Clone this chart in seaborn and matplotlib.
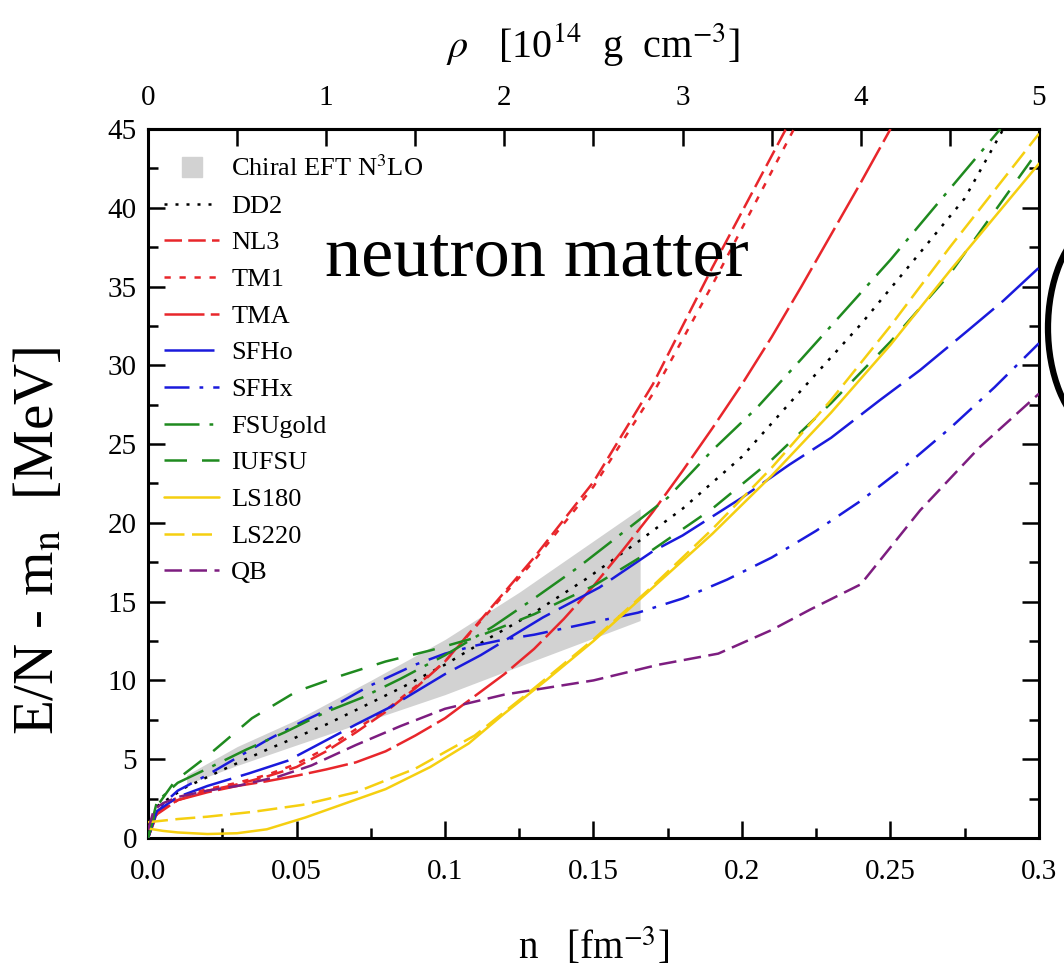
import numpy as np
import pandas as pd
import matplotlib
matplotlib.use("Agg")
import matplotlib.pyplot as plt
import seaborn as sns
from matplotlib.lines import Line2D
from matplotlib.patches import Arc
from matplotlib.ticker import MultipleLocator, FixedLocator

# ---------------- data ----------------
band_n = [0.013, 0.03, 0.05, 0.075, 0.1, 0.125, 0.1657]
band_lo = [3.4, 4.6, 5.9, 7.5, 9.1, 10.9, 13.8]
band_hi = [4.0, 5.8, 7.5, 10.0, 12.6, 15.6, 20.9]

dd2_n = [0, 0.003, 0.0125, 0.026, 0.04, 0.05, 0.06, 0.072, 0.086, 0.1, 0.115, 0.13, 0.148, 0.165, 0.18, 0.2, 0.217, 0.24, 0.258, 0.275, 0.288]
dd2_e = [0, 2.0, 3.2, 4.4, 5.6, 6.4, 7.2, 8.3, 9.6, 11.0, 12.7, 14.3, 16.5, 18.8, 20.9, 24.2, 27.8, 32.6, 36.7, 40.6, 45.0]

nl3_n = [0, 0.003, 0.01, 0.02, 0.03, 0.04, 0.05, 0.06, 0.07, 0.08, 0.09, 0.1, 0.115, 0.13, 0.15, 0.17, 0.19, 0.2148]
nl3_e = [0, 1.5, 2.4, 3.0, 3.4, 3.9, 4.5, 5.5, 6.7, 8.0, 9.5, 11.2, 14.5, 17.8, 22.6, 28.8, 36.2, 45.0]

tm1_n = [0, 0.003, 0.01, 0.02, 0.03, 0.04, 0.05, 0.06, 0.07, 0.08, 0.09, 0.1, 0.115, 0.13, 0.15, 0.17, 0.19, 0.2175]
tm1_e = [0, 1.7, 2.6, 3.1, 3.5, 4.0, 4.7, 5.7, 6.9, 8.1, 9.6, 11.2, 14.4, 17.6, 22.3, 28.2, 35.1, 45.0]

tma_n = [0, 0.003, 0.01, 0.02, 0.03, 0.04, 0.05, 0.06, 0.07, 0.08, 0.09, 0.1, 0.11, 0.12, 0.13, 0.14, 0.15, 0.16, 0.17, 0.18, 0.19, 0.2, 0.21, 0.22, 0.23, 0.24, 0.25]
tma_e = [0, 1.6, 2.4, 2.9, 3.3, 3.6, 3.95, 4.35, 4.8, 5.5, 6.5, 7.6, 9.0, 10.4, 12.0, 13.9, 16.0, 18.3, 20.7, 23.3, 26.0, 28.8, 31.8, 35.0, 38.3, 41.6, 45.0]

sfho_n = [0, 0.003, 0.01, 0.02, 0.034, 0.047, 0.06, 0.07, 0.0815, 0.1, 0.112, 0.133, 0.152, 0.17, 0.18, 0.2, 0.216, 0.23, 0.2465, 0.26, 0.276, 0.288, 0.3]
sfho_e = [0, 1.7, 2.6, 3.3, 4.1, 4.9, 6.2, 7.2, 8.3, 10.4, 11.6, 14.0, 15.9, 18.2, 19.2, 21.6, 23.7, 25.4, 27.8, 29.7, 32.2, 34.1, 36.2]

sfhx_n = [0, 0.003, 0.01, 0.02, 0.03, 0.04, 0.05, 0.06, 0.074, 0.09, 0.1, 0.11, 0.12, 0.13, 0.14, 0.15, 0.165, 0.18, 0.195, 0.21, 0.225, 0.24, 0.255, 0.27, 0.285, 0.3]
sfhx_e = [0, 1.8, 3.0, 4.0, 5.1, 6.2, 7.2, 8.1, 9.6, 11.0, 11.7, 12.2, 12.6, 12.9, 13.3, 13.7, 14.3, 15.2, 16.4, 17.8, 19.5, 21.4, 23.6, 26.0, 28.6, 31.4]

fsu_n = [0, 0.003, 0.01, 0.02, 0.033, 0.046, 0.06, 0.072, 0.085, 0.1, 0.116, 0.13, 0.145, 0.16, 0.175, 0.19, 0.205, 0.22, 0.25, 0.27, 0.287]
fsu_e = [0, 2.3, 3.5, 4.4, 5.6, 6.7, 8.0, 8.9, 10.1, 11.6, 13.4, 15.2, 17.2, 19.4, 21.6, 24.6, 27.3, 30.4, 36.7, 41.2, 45.0]

iufsu_n = [0, 0.003, 0.009, 0.02, 0.035, 0.05, 0.065, 0.08, 0.095, 0.11, 0.13, 0.15, 0.17, 0.19, 0.21, 0.23, 0.25, 0.27, 0.3]
iufsu_e = [0, 2.0, 3.6, 5.2, 7.6, 9.3, 10.3, 11.2, 11.9, 12.7, 14.2, 16.0, 18.3, 20.9, 24.0, 27.6, 31.5, 35.8, 43.7]

ls180_n = [0, 0.005, 0.01, 0.02, 0.03, 0.04, 0.053, 0.065, 0.08, 0.095, 0.108, 0.12, 0.134, 0.15, 0.17, 0.19, 0.21, 0.23, 0.25, 0.27, 0.3]
ls180_e = [0.6, 0.45, 0.35, 0.25, 0.3, 0.55, 1.3, 2.1, 3.1, 4.5, 6.0, 7.9, 10.0, 12.5, 15.9, 19.3, 23.0, 27.0, 31.3, 36.0, 42.8]

ls220_n = [0, 0.01, 0.02, 0.035, 0.052, 0.07, 0.09, 0.11, 0.13, 0.15, 0.17, 0.19, 0.21, 0.23, 0.25, 0.27, 0.3]
ls220_e = [1.0, 1.2, 1.35, 1.65, 2.1, 2.9, 4.4, 6.5, 9.5, 12.6, 16.0, 19.6, 23.5, 27.8, 32.5, 37.5, 44.7]

qb_n = [0, 0.002, 0.005, 0.01, 0.02, 0.03, 0.044, 0.055, 0.07, 0.085, 0.1, 0.12, 0.15, 0.172, 0.192, 0.21, 0.223, 0.24, 0.26, 0.28, 0.3]
qb_e = [0.5, 1.8, 2.2, 2.6, 3.0, 3.3, 3.9, 4.6, 5.9, 7.1, 8.2, 9.1, 10.0, 11.0, 11.7, 13.2, 14.5, 16.1, 20.8, 24.8, 28.2]

labels = ["DD2", "NL3", "TM1", "TMA", "SFHo", "SFHx", "FSUgold", "IUFSU", "LS180", "LS220", "QB"]
xs = [dd2_n, nl3_n, tm1_n, tma_n, sfho_n, sfhx_n, fsu_n, iufsu_n, ls180_n, ls220_n, qb_n]
ys = [dd2_e, nl3_e, tm1_e, tma_e, sfho_e, sfhx_e, fsu_e, iufsu_e, ls180_e, ls220_e, qb_e]

top_ticks = [0, 1, 2, 3, 4, 5]
bottom_ticks = [0, 0.05, 0.1, 0.15, 0.2, 0.25, 0.3]
bottom_ticklabels = ["0.0", "0.05", "0.1", "0.15", "0.2", "0.25", "0.3"]

RED, BLUE, GREEN, YEL, PUR = "#e8262b", "#1a1adc", "#1f8a1f", "#f5cf10", "#7d1d80"
colors = ["black", RED, RED, RED, BLUE, BLUE, GREEN, GREEN, YEL, YEL, PUR]
styles = [(0, (1.2, 3.2)), (0, (7, 2.5)), (0, (2.5, 3.5)), (0, (16, 2.5)),
          (0, (20, 4)), (0, (10, 4, 1.5, 4)), (0, (14, 4, 1.5, 4)), (0, (9, 6)),
          "-", (0, (8, 3)), (0, (7, 3))]

# ---------------- style ----------------
sns.set_theme(style="white")
plt.rcParams['font.family'] = ['Liberation Serif', 'DejaVu Serif']
plt.rcParams['mathtext.fontset'] = 'stix'
for k in ["text.color", "axes.labelcolor", "xtick.color", "ytick.color"]:
    plt.rcParams[k] = "black"

fig = plt.figure(figsize=(10.64, 9.72), dpi=100)
ax = fig.add_axes([0.1391, 0.1379, 0.8374, 0.7294])

ax.fill_between(band_n, band_lo, band_hi, color="#d2d2d2", lw=0, zorder=1)

for lab, x, y, c, ls in zip(labels, xs, ys, colors, styles):
    df = pd.DataFrame({"n": x, "E": y})
    sns.lineplot(data=df, x="n", y="E", ax=ax, color=c, linestyle=ls, lw=1.8,
                 label=lab, estimator=None, sort=False, zorder=3)

ax.set_xlim(0, 0.3)
ax.set_ylim(0, 45)
ax.set_xticks(bottom_ticks)
ax.set_xticklabels(bottom_ticklabels)
ax.xaxis.set_minor_locator(MultipleLocator(0.025))
ax.yaxis.set_major_locator(MultipleLocator(5))
ax.yaxis.set_minor_locator(MultipleLocator(2.5))

for s in ax.spines.values():
    s.set_linewidth(2.2)
    s.set_color("black")
ax.tick_params(which="both", direction="in", top=False, right=True, left=True, bottom=True,
               color="black", width=1.8, labelsize=21, labelcolor="black")
ax.tick_params(which="major", length=12)
ax.tick_params(which="minor", length=7)
ax.tick_params(axis="x", pad=15)
ax.tick_params(axis="y", pad=8)

sec = ax.secondary_xaxis("top", functions=(lambda n: n / 0.3 * 5, lambda r: r * 0.3 / 5))
sec.xaxis.set_major_locator(FixedLocator(top_ticks))
sec.xaxis.set_minor_locator(FixedLocator([0.5, 1.5, 2.5, 3.5, 4.5]))
sec.tick_params(which="both", direction="in", width=1.8, length=12, labelsize=21, pad=13,
                color="black", labelcolor="black")
sec.spines["top"].set_linewidth(2.2)
sec.set_xlabel(r"$\rho$   [10$^{14}$  g  cm$^{-3}$]", fontsize=29, labelpad=20)

ax.set_xlabel(r"n   [fm$^{-3}$]", fontsize=28, labelpad=30)
ax.set_ylabel(r"E/N - m$_{\rm n}$  [MeV]", fontsize=41)
ax.yaxis.set_label_coords(-0.093, 0.419)

ax.text(0.131, 35.7, "neutron matter", fontsize=52, ha="center", va="baseline", color="black", zorder=5)

handles = [Line2D([], [], marker="s", markersize=15, color="#d2d2d2", linestyle="none")]
handles += list(ax.get_lines()[:len(labels)])
leg_labels = [r"Chiral EFT N$^3$LO"] + labels
ax.legend(handles, leg_labels, loc="upper left", bbox_to_anchor=(0.0, 0.985), frameon=False,
          fontsize=19, handlelength=2.1, handletextpad=0.45, labelspacing=0.5,
          borderaxespad=0.2, borderpad=0.4)

# partial bracket visible at the right edge of the reference image
fig.add_artist(Arc((1.0432, 0.6626), 0.1165, 0.2243, theta1=100, theta2=260,
                   transform=fig.transFigure, lw=4.5, color="black"))

fig.savefig("out.png", dpi=100, facecolor="white")
